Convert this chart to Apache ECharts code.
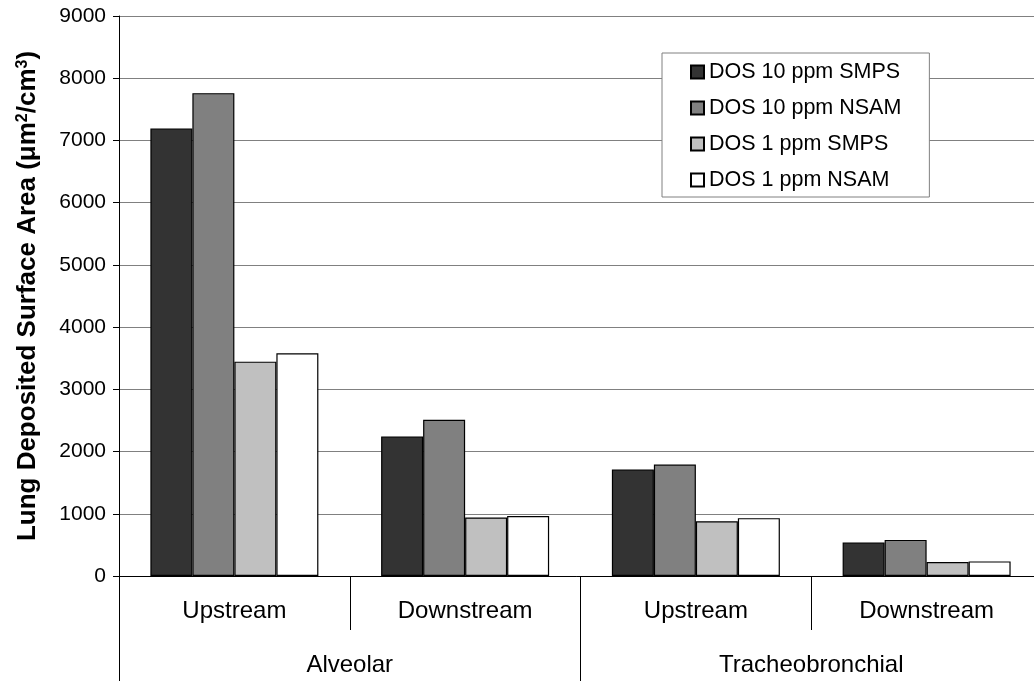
<!DOCTYPE html>
<html>
<head>
<meta charset="utf-8">
<style>
  html, body { margin: 0; padding: 0; background: #fff; }
  #chart { width: 1034px; height: 681px; }
</style>
<script src="https://cdn.jsdelivr.net/npm/echarts@6/dist/echarts.min.js"></script>
</head>
<body>
<div id="chart"></div>
<script>
// Sampling positions (inner category level) and lung regions (outer level)
const positions = ['Upstream', 'Downstream', 'Upstream', 'Downstream'];
const regions = ['Alveolar', 'Tracheobronchial'];

// Lung deposited surface area, µm²/cm³
const dos10Smps = [7190, 2240, 1710, 540];
const dos10Nsam = [7760, 2510, 1790, 580];
const dos1Smps = [3445, 940, 880, 225];
const dos1Nsam = [3580, 965, 930, 235];

const yTicks = { min: 0, max: 9000, interval: 1000 };

const FONT = '"Liberation Sans", Arial, Helvetica, sans-serif';

const seriesDefs = [
  { name: 'DOS 10 ppm SMPS', data: dos10Smps, color: '#333333' },
  { name: 'DOS 10 ppm NSAM', data: dos10Nsam, color: '#808080' },
  { name: 'DOS 1 ppm SMPS', data: dos1Smps, color: '#c0c0c0' },
  { name: 'DOS 1 ppm NSAM', data: dos1Nsam, color: '#ffffff' }
];

const chart = echarts.init(document.getElementById('chart'), null, { renderer: 'canvas' });

chart.setOption({
  animation: false,
  backgroundColor: '#ffffff',
  textStyle: { fontFamily: FONT, color: '#000' },
  // the plot runs a little past the right edge of the page
  grid: { left: 119, width: 923, top: 16, height: 560, containLabel: false, outerBoundsMode: 'none' },
  legend: {
    orient: 'vertical',
    left: 662,
    top: 53,
    padding: [7, 28, 5, 28],
    itemGap: 12,
    itemWidth: 13,
    itemHeight: 13,
    icon: 'rect',
    backgroundColor: '#ffffff',
    borderColor: '#808080',
    borderWidth: 1,
    borderRadius: 0,
    textStyle: { fontFamily: FONT, fontSize: 21.5, color: '#000', lineHeight: 24 },
    data: seriesDefs.map(s => s.name)
  },
  xAxis: [
    {
      type: 'category',
      position: 'bottom',
      data: positions,
      axisLine: { show: true, lineStyle: { color: '#000', width: 1 } },
      axisTick: { show: true, interval: 0, length: 54, lineStyle: { color: '#000', width: 1 } },
      axisLabel: { interval: 0, margin: 23, fontFamily: FONT, fontSize: 24, color: '#000' },
      splitLine: { show: false }
    },
    {
      type: 'category',
      position: 'bottom',
      offset: 0,
      data: regions,
      axisLine: { show: false },
      axisTick: { show: true, interval: 0, length: 105, lineStyle: { color: '#000', width: 1 } },
      axisLabel: { interval: 0, margin: 77, fontFamily: FONT, fontSize: 24, color: '#000' },
      splitLine: { show: false }
    }
  ],
  yAxis: {
    type: 'value',
    min: yTicks.min,
    max: yTicks.max,
    interval: yTicks.interval,
    name: 'Lung Deposited Surface Area (μm{sup|2}/cm{sup|3})',
    nameLocation: 'middle',
    nameGap: 78,
    nameRotate: 90,
    nameTextStyle: {
      fontFamily: FONT,
      fontSize: 26,
      fontWeight: 'bold',
      color: '#000',
      rich: {
        sup: { fontFamily: FONT, fontSize: 16, fontWeight: 'bold', color: '#000', verticalAlign: 'top', lineHeight: 26 }
      }
    },
    axisLine: { show: true, lineStyle: { color: '#000', width: 1 } },
    axisTick: { show: true, length: 6, inside: false, lineStyle: { color: '#000', width: 1 } },
    axisLabel: { margin: 13, fontFamily: FONT, fontSize: 21, color: '#000', formatter: v => String(v) },
    splitLine: { show: true, lineStyle: { color: '#808080', width: 1 } }
  },
  series: seriesDefs.map(s => ({
    name: s.name,
    type: 'bar',
    xAxisIndex: 0,
    data: s.data,
    barWidth: 42,
    barGap: '0%',
    itemStyle: { color: s.color, borderColor: '#000', borderWidth: 1.2 }
  }))
});
</script>
</body>
</html>
